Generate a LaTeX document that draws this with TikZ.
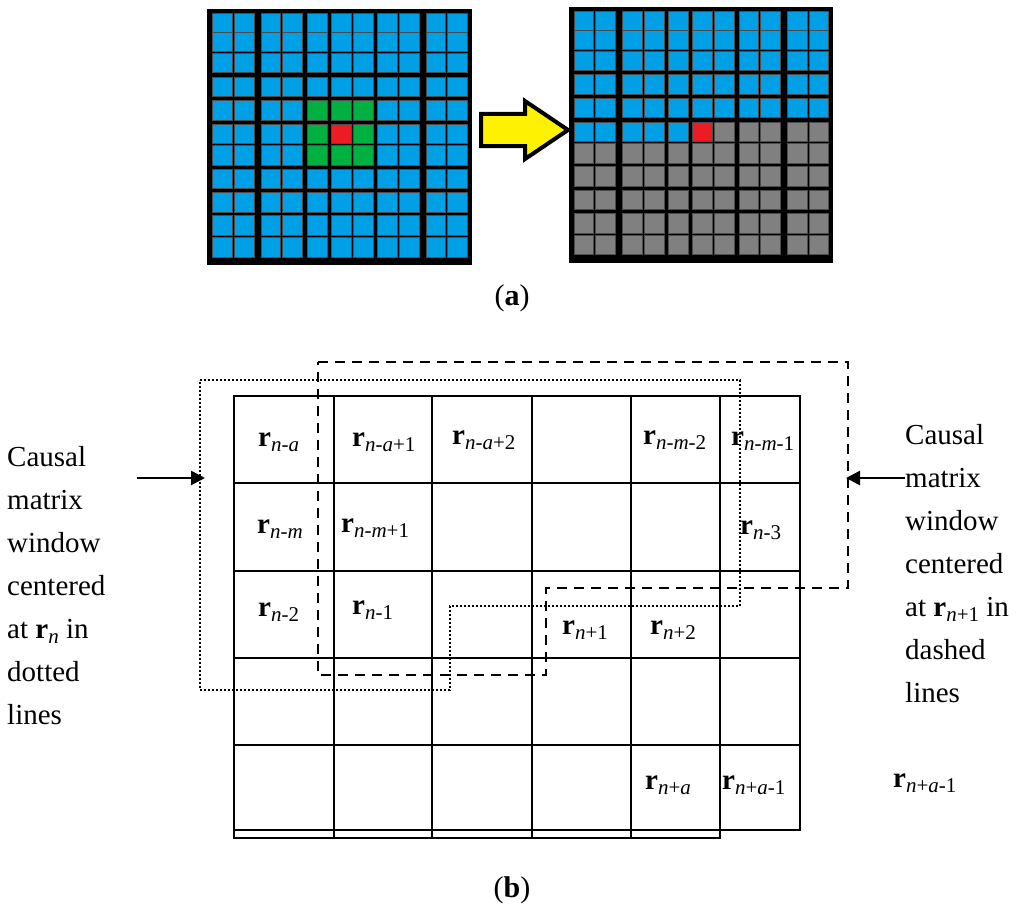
\documentclass[tikz,border=0pt]{standalone}
\usepackage{fontspec}
\setmainfont{Liberation Serif}
\usetikzlibrary{arrows.meta}
\definecolor{cellblue}{RGB}{0,160,230}
\definecolor{cellgreen}{RGB}{0,176,64}
\definecolor{cellred}{RGB}{237,28,36}
\definecolor{cellgray}{RGB}{128,128,128}
\newcommand\rsub[1]{\textbf{r}\raisebox{-0.35ex}{\fontsize{21}{21}\selectfont #1}}
\begin{document}
\begin{tikzpicture}[x=1pt,y=-1pt,
  cell/.style={draw=black!70,line width=0.6pt},
  gridline/.style={line width=2.6pt},
  txt/.style={anchor=west,inner sep=0pt,font=\fontsize{29}{43}\selectfont,align=left},
  lab/.style={anchor=west,inner sep=0pt,font=\fontsize{29}{29}\selectfont},
  win/.style={line width=2.4pt}]
\useasboundingbox (0,0) rectangle (1024,923);

% ---- (a) left grid
\fill (207,9) rectangle (472,265);
\foreach \cx [count=\i from 0] in {212.7,234.3,261,282.7,307.3,331.7,353.3,377.7,399.3,426,447.7}{
  \foreach \cy [count=\j from 0] in {13.3,32.3,53.3,77.3,100.7,124,145.7,169,192.3,215.7,237.3}{
    \def\col{cellblue}
    \ifnum\i>3 \ifnum\i<7 \ifnum\j>3 \ifnum\j<7 \def\col{cellgreen}\fi\fi\fi\fi
    \ifnum\i=5 \ifnum\j=5 \def\col{cellred}\fi\fi
    \filldraw[cell,fill=\col] (\cx,\cy) rectangle ++(19.5,19.5);
  }}

% ---- yellow arrow
\filldraw[fill=yellow,draw=black,line width=4pt,line join=miter]
  (481,114) -- (525,114) -- (525,101) -- (568,130) -- (525,159) -- (525,146) -- (481,146) -- cycle;

% ---- (a) right grid
\fill (569,7) rectangle (833,263);
\foreach \cx [count=\i from 0] in {574,595.7,622.7,644.3,668.3,692.7,714.3,739,760.7,787.3,809}{
  \foreach \cy [count=\j from 0] in {11,30,51,74.7,98,122,143.3,166.7,190,213.3,235}{
    \def\col{cellgray}
    \ifnum\j<5 \def\col{cellblue}\fi
    \ifnum\j=5 \ifnum\i<5 \def\col{cellblue}\fi \ifnum\i=5 \def\col{cellred}\fi\fi
    \filldraw[cell,fill=\col] (\cx,\cy) rectangle ++(19.5,19.5);
  }}

\node[font=\fontsize{30}{30}\selectfont] (capa) at (512,298) {(\textbf{a})};

% ---- (b) grid
\draw[gridline] (234,396) rectangle (800,830);
\draw[gridline] (234,830) -- (234,838) -- (720,838) -- (720,830);
\foreach \x in {334,432,532,631}{\draw[gridline] (\x,396) -- (\x,838);}
\draw[gridline] (720,396) -- (720,838);
\foreach \y in {483,571,658,745}{\draw[gridline] (234,\y) -- (800,\y);}

% windows
\draw[win,dash pattern=on 2pt off 2pt] (200,380) -- (740,380) -- (740,606) -- (450,606) -- (450,690) -- (200,690) -- cycle;
\draw[win,dash pattern=on 10pt off 7pt] (318,362) -- (848,362) -- (848,588) -- (546,588) -- (546,675) -- (318,675) -- cycle;

% cell labels
\node[lab] (l1) at (258,442) {\rsub{\textit{n}-\textit{a}}};
\node[lab] (l2) at (352,442) {\rsub{\textit{n}-\textit{a}+1}};
\node[lab] (l3) at (452,440) {\rsub{\textit{n}-\textit{a}+2}};
\node[lab] (l4) at (643,440) {\rsub{\textit{n}-\textit{m}-2}};
\node[lab] (l5) at (731,441) {\rsub{\textit{n}-\textit{m}-1}};
\node[lab] (l6) at (257,529) {\rsub{\textit{n}-\textit{m}}};
\node[lab] (l7) at (341,528) {\rsub{\textit{n}-\textit{m}+1}};
\node[lab] (l8) at (740,530) {\rsub{\textit{n}-3}};
\node[lab] (l9) at (258,612) {\rsub{\textit{n}-2}};
\node[lab] (l10) at (352,610) {\rsub{\textit{n}-1}};
\node[lab] (l11) at (562,630) {\rsub{\textit{n}+1}};
\node[lab] (l12) at (650,630) {\rsub{\textit{n}+2}};
\node[lab] (l13) at (645,785) {\rsub{\textit{n}+\textit{a}}};
\node[lab] (l14) at (722,785) {\rsub{\textit{n}+\textit{a}-1}};
\node[lab] (l15) at (893,783) {\rsub{\textit{n}+\textit{a}-1}};

% side texts
\node[txt] (lt) at (7,586) {Causal\\matrix\\window\\centered\\at \textbf{r}\raisebox{-0.35ex}{\fontsize{21}{21}\selectfont\textit{n}} in\\dotted\\lines};
\node[txt] (rt) at (905,564) {Causal\\matrix\\window\\centered\\at \rsub{\textit{n}+1} in\\dashed\\lines};

\coordinate (la) at (137,478); \coordinate (lb) at (205,478);
\coordinate (ra) at (905,478); \coordinate (rb) at (846,478);
\draw[line width=2.6pt,-{Triangle[length=14pt,width=14pt]}] (la) -- (lb);
\draw[line width=2.6pt,-{Triangle[length=14pt,width=14pt]}] (ra) -- (rb);

\node[font=\fontsize{30}{30}\selectfont] (capb) at (512,890) {(\textbf{b})};
\end{tikzpicture}
\end{document}
